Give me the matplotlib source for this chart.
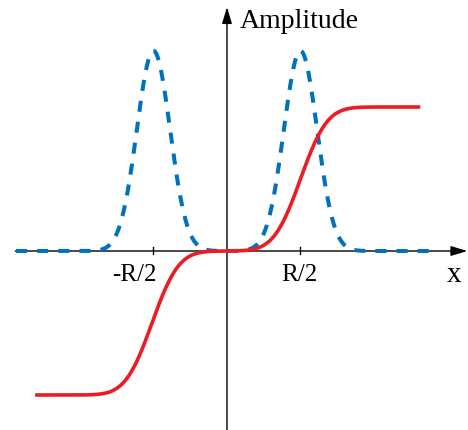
import math
import matplotlib
matplotlib.use("Agg")
import matplotlib.pyplot as plt
import numpy as np

# two wave packets centred at -R/2 and +R/2 (x measured in units of R/2)
peak_centers = [-1.0, 1.0]
peak_height = 1.39
peak_sigma = 0.226

# smooth step profile made of two error-function steps
step_centers = [-1.02, 1.0]
step_height = 1.0
step_sigma = 0.285

blue_range = (-2.87, 2.87)
red_range = (-2.61, 2.63)

tick_pos = [-1.0, 1.0]
tick_labels = ["-R/2", "R/2"]

BLUE = "#0072bd"
RED = "#ed1c24"

erf = np.vectorize(math.erf)


def packets(x):
    y = np.zeros_like(x)
    for c in peak_centers:
        y += peak_height * np.exp(-0.5 * ((x - c) / peak_sigma) ** 2)
    return y


def steps(x):
    y = np.zeros_like(x)
    for c in step_centers:
        y += 0.5 * step_height * (1 + erf((x - c) / (step_sigma * np.sqrt(2))))
    return y - step_height


fig = plt.figure(figsize=(4.68, 4.31), dpi=100)
ax = fig.add_axes([0, 0, 1, 1])
ax.set_xlim(-3.088, 3.279)
ax.set_ylim(-1.243, 1.75)
ax.axis("off")

# axes with arrow heads
arrow = dict(arrowstyle="-|>,head_length=1.0,head_width=0.3", color="black",
             lw=1.0, shrinkA=0, shrinkB=0, mutation_scale=10)
ax.annotate("", xy=(3.27, 0), xytext=(-2.88, 0), arrowprops=arrow)
ax.annotate("", xy=(0, 1.694), xytext=(0, -1.25), arrowprops=arrow)

for t in tick_pos:
    ax.plot([t, t], [0.028, -0.02], color="black", lw=1.0)

xb = np.linspace(*blue_range, 800)
ax.plot(xb, packets(xb), color=BLUE, lw=2.9, dashes=(2.75, 2.5),
        dash_capstyle="butt", zorder=3)

xr = np.linspace(*red_range, 800)
ax.plot(xr, steps(xr), color=RED, lw=2.6, solid_capstyle="butt", zorder=4)

serif = "Liberation Serif"
ax.text(tick_pos[0] + 0.048, -0.201, tick_labels[0], ha="right", va="baseline",
        fontsize=18, family=serif)
ax.text(tick_pos[1] - 0.02, -0.201, tick_labels[1], ha="center", va="baseline",
        fontsize=18, family=serif)
ax.text(3.088, -0.208, "x", ha="center", va="baseline", fontsize=21, family=serif)
ax.text(0.177, 1.556, "Amplitude", ha="left", va="baseline", fontsize=20,
        family=serif)

fig.savefig("out.png", dpi=100)
